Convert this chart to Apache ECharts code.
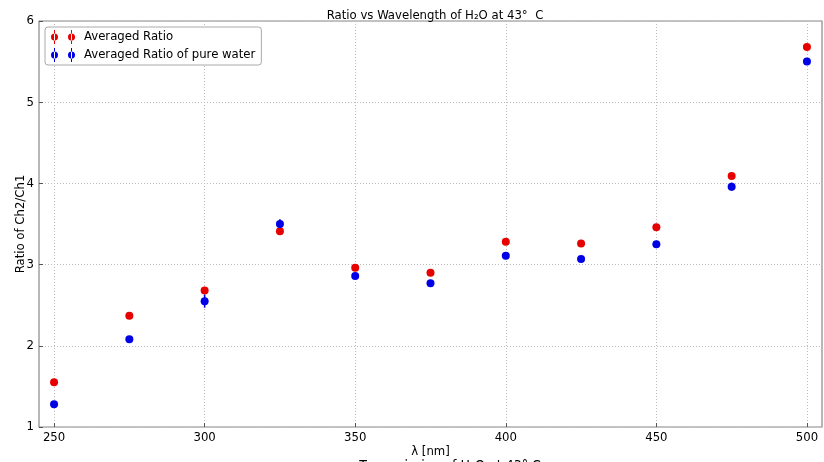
<!DOCTYPE html>
<html><head><meta charset="utf-8">
<script src="https://cdn.jsdelivr.net/npm/echarts@6/dist/echarts.min.js"></script>
<style>html,body{margin:0;padding:0;background:#fff}#c{width:824px;height:462px}</style>
</head><body><div id="c"></div>
<script>
const wavelengths = [250, 275, 300, 325, 350, 375, 400, 425, 450, 475, 500];
const ratioAvg = [1.55, 2.37, 2.68, 3.41, 2.96, 2.90, 3.28, 3.26, 3.46, 4.09, 5.68];
const ratioAvgErr = [0.01, 0.01, 0.02, 0.01, 0.01, 0.01, 0.01, 0.01, 0.01, 0.01, 0.01];
const ratioWater = [1.28, 2.08, 2.55, 3.50, 2.86, 2.77, 3.11, 3.07, 3.25, 3.96, 5.50];
const ratioWaterErr = [0.01, 0.03, 0.08, 0.06, 0.01, 0.01, 0.01, 0.01, 0.01, 0.05, 0.01];
const xTicks = [250, 300, 350, 400, 450, 500];

const RED = '#e60000', BLUE = '#0000e6';
const FONT = 'DejaVu Sans Condensed, DejaVu Sans';
const legendIcon = 'path://M3 0h1v14h-1Z M0 7a3.5 3.5 0 1 0 7 0a3.5 3.5 0 1 0 -7 0Z M20 0h1v14h-1Z M17 7a3.5 3.5 0 1 0 7 0a3.5 3.5 0 1 0 -7 0Z';

function pts(v){ return wavelengths.map((x,i)=>[x, v[i]]); }
function errData(v,e){ return wavelengths.map((x,i)=>[x, v[i]-e[i], v[i]+e[i]]); }
function errSeries(name, v, e, color){
  return {
    type:'custom', name, data: errData(v,e), z:3, silent:true,
    renderItem(params, api){
      const lo = api.coord([api.value(0), api.value(1)]);
      const hi = api.coord([api.value(0), api.value(2)]);
      return {type:'line', shape:{x1:lo[0],y1:lo[1],x2:hi[0],y2:hi[1]}, style:{stroke:color, lineWidth:1.6}};
    }
  };
}

const chart = echarts.init(document.getElementById('c'));
chart.setOption({
  animation:false,
  backgroundColor:'#fff',
  textStyle:{fontFamily:FONT},
  title:[
    {text:'Ratio vs Wavelength of H₂O at 43°  C', left:430, top:4, textAlign:'center',
     textStyle:{fontFamily:FONT, fontSize:13, fontWeight:'normal', color:'#000'}},
    {text:'Transmission of H₂O at 43° C', left:445, top:454, textAlign:'center',
     textStyle:{fontFamily:FONT, fontSize:14, fontWeight:'normal', color:'#000'}}
  ],
  grid:{left:39, right:2, top:21, bottom:35, outerBoundsMode:'none', containLabel:false,
        show:true, borderColor:'#888', borderWidth:1.2, backgroundColor:'transparent'},
  legend:{
    left:45, top:27, orient:'vertical', itemWidth:24, itemHeight:14, itemGap:4,
    padding:[3,6,3,6], borderColor:'#aaa', borderWidth:1, borderRadius:3, backgroundColor:'#fff',
    textStyle:{fontFamily:FONT, fontSize:13, color:'#000', padding:[0,0,0,4]},
    data:[{name:'Averaged Ratio', icon:legendIcon, itemStyle:{color:RED}},
          {name:'Averaged Ratio of pure water', icon:legendIcon, itemStyle:{color:BLUE}}]
  },
  xAxis:[{
    type:'value', min:245, max:505,
    name:'λ [nm]', nameLocation:'middle', nameGap:18, nameMoveOverlap:false,
    nameTextStyle:{fontFamily:FONT, fontSize:13, color:'#000', verticalAlign:'top'},
    axisLine:{show:false},
    axisTick:{show:true, inside:true, length:4, customValues:xTicks, lineStyle:{color:'#555'}},
    axisLabel:{customValues:xTicks, fontFamily:FONT, fontSize:13, color:'#000', margin:4},
    splitLine:{show:true, lineStyle:{color:'#bbb', type:[1,2], width:1}}
  }],
  yAxis:[{
    type:'value', min:1, max:6, interval:1,
    name:'Ratio of Ch2/Ch1', nameLocation:'middle', nameGap:12, nameMoveOverlap:false,
    nameTextStyle:{fontFamily:FONT, fontSize:13, color:'#000'},
    axisLine:{show:false},
    axisTick:{show:true, inside:true, length:4, lineStyle:{color:'#555'}},
    axisLabel:{fontFamily:FONT, fontSize:13, color:'#000', margin:5},
    splitLine:{show:true, lineStyle:{color:'#bbb', type:[1,2], width:1}}
  }],
  series:[
    errSeries('Averaged Ratio', ratioAvg, ratioAvgErr, RED),
    {type:'scatter', name:'Averaged Ratio', data:pts(ratioAvg), symbolSize:8, itemStyle:{color:RED, opacity:1}, z:4},
    errSeries('Averaged Ratio of pure water', ratioWater, ratioWaterErr, BLUE),
    {type:'scatter', name:'Averaged Ratio of pure water', data:pts(ratioWater), symbolSize:8, itemStyle:{color:BLUE, opacity:1}, z:4}
  ]
});
</script></body></html>
